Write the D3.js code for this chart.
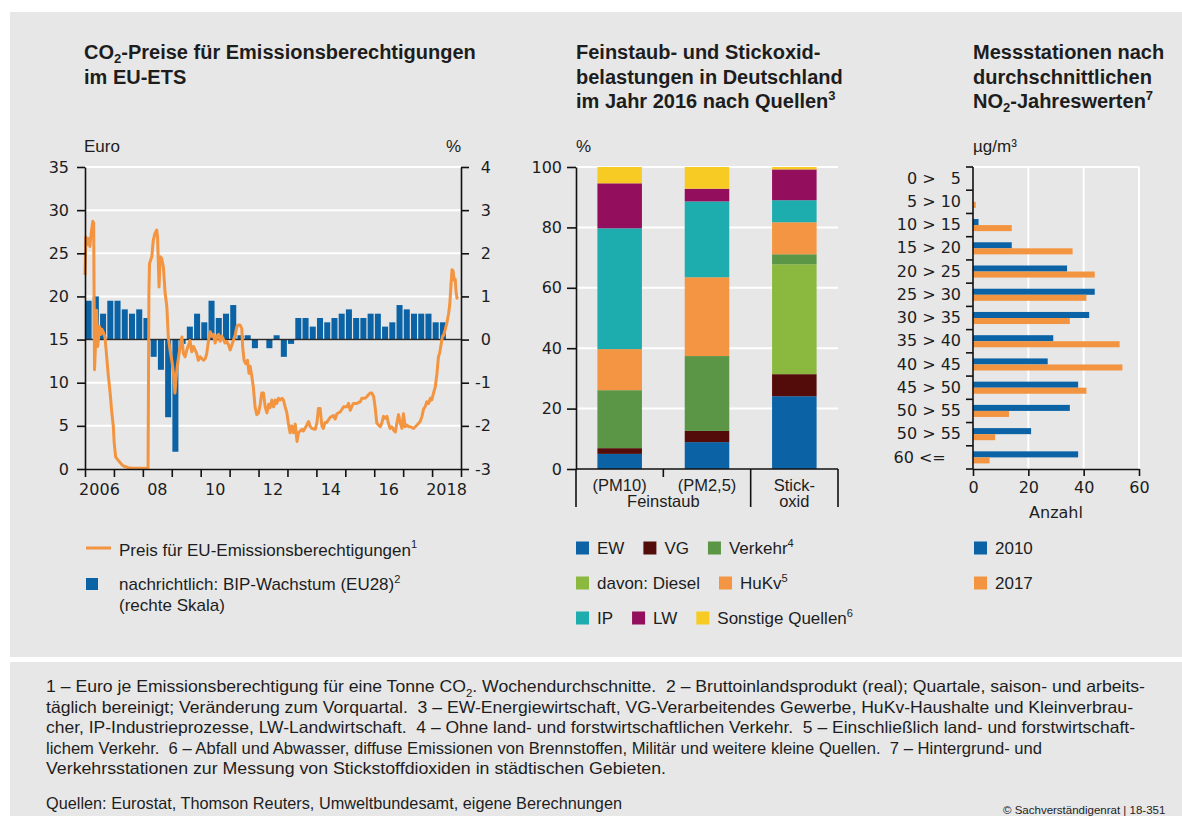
<!DOCTYPE html>
<html>
<head>
<meta charset="utf-8">
<script src="https://cdn.jsdelivr.net/npm/d3@7"></script>
<style>
body { margin: 0; background: #fff; }
svg text { fill: #1d1d1d; }
</style>
</head>
<body>
<svg id="chart" width="1182" height="816"></svg>
<script>
// ---- data ----

// weekly EUA price, [year, euro]
const co2Price = [
	[2006.00,22.5],[2006.03,26.9],[2006.07,26.0],[2006.12,26.7],[2006.17,25.8],[2006.22,27.5],[2006.27,28.7],[2006.30,28.5],
	[2006.33,11.5],[2006.37,15.0],[2006.40,18.4],[2006.44,14.2],[2006.50,16.5],[2006.55,15.6],[2006.58,16.2],[2006.64,15.8],
	[2006.69,15.3],[2006.75,13.0],[2006.81,10.7],[2006.87,8.8],[2006.92,6.8],[2006.98,4.9],[2007.01,3.0],[2007.06,1.4],
	[2007.15,1.0],[2007.25,0.6],[2007.33,0.35],[2007.50,0.15],[2007.67,0.1],[2008.00,0.1],[2008.18,0.1],[2008.21,20.4],
	[2008.23,23.8],[2008.31,24.6],[2008.36,26.5],[2008.42,27.3],[2008.48,27.7],[2008.51,26.8],[2008.56,21.1],[2008.60,24.6],
	[2008.65,24.4],[2008.71,23.4],[2008.77,20.4],[2008.83,18.8],[2008.88,15.3],[2008.94,13.8],[2009.00,12.6],[2009.06,11.1],
	[2009.11,8.8],[2009.15,10.6],[2009.19,11.9],[2009.29,14.2],[2009.35,15.3],[2009.40,13.4],[2009.46,13.0],[2009.52,13.8],
	[2009.63,14.9],[2009.69,13.6],[2009.75,14.2],[2009.86,13.4],[2009.92,12.6],[2009.98,13.0],[2010.10,12.6],[2010.16,12.8],
	[2010.21,13.4],[2010.27,14.9],[2010.33,15.9],[2010.39,15.4],[2010.44,15.6],[2010.50,14.6],[2010.56,15.4],[2010.62,15.6],
	[2010.67,14.8],[2010.73,15.4],[2010.79,15.0],[2010.84,14.6],[2010.90,14.8],[2010.96,14.4],[2011.02,13.8],[2011.08,14.4],
	[2011.13,14.9],[2011.19,15.5],[2011.25,16.5],[2011.30,16.7],[2011.36,16.7],[2011.42,16.3],[2011.45,14.2],[2011.50,12.6],
	[2011.56,12.2],[2011.62,12.6],[2011.67,11.1],[2011.71,11.9],[2011.77,10.7],[2011.82,9.5],[2011.88,7.2],[2011.94,6.3],
	[2012.00,6.5],[2012.06,7.5],[2012.11,8.8],[2012.17,8.8],[2012.23,7.2],[2012.29,6.5],[2012.35,7.5],[2012.40,7.1],
	[2012.46,8.0],[2012.52,7.2],[2012.58,8.0],[2012.63,7.6],[2012.69,8.2],[2012.75,8.0],[2012.81,8.2],[2012.86,8.0],
	[2012.92,7.2],[2012.98,6.5],[2013.03,5.3],[2013.09,4.2],[2013.15,5.0],[2013.21,4.2],[2013.27,5.2],[2013.33,3.2],
	[2013.38,4.2],[2013.44,4.4],[2013.50,4.6],[2013.55,4.4],[2013.67,5.1],[2013.73,5.5],[2013.79,4.9],[2013.85,4.7],
	[2013.96,4.6],[2014.02,5.4],[2014.07,7.0],[2014.13,7.0],[2014.19,5.0],[2014.24,4.7],[2014.30,5.4],[2014.36,5.4],
	[2014.48,6.0],[2014.59,6.2],[2014.65,5.8],[2014.71,6.4],[2014.82,6.6],[2014.88,6.9],[2014.94,7.2],[2015.05,7.2],
	[2015.11,7.6],[2015.17,6.8],[2015.22,7.2],[2015.28,7.6],[2015.40,7.6],[2015.52,7.8],[2015.57,8.2],[2015.69,8.2],
	[2015.75,8.4],[2015.80,8.6],[2015.86,8.8],[2015.92,8.8],[2015.98,8.4],[2016.03,7.2],[2016.09,5.3],[2016.15,5.1],
	[2016.21,4.9],[2016.26,5.3],[2016.32,6.1],[2016.38,5.9],[2016.44,6.1],[2016.49,5.3],[2016.55,4.7],[2016.61,4.9],
	[2016.67,4.5],[2016.73,4.3],[2016.78,5.3],[2016.84,6.3],[2016.90,5.3],[2016.96,4.7],[2017.01,6.4],[2017.07,4.9],
	[2017.13,5.1],[2017.19,4.9],[2017.25,4.9],[2017.36,4.7],[2017.42,4.9],[2017.48,5.1],[2017.59,5.5],[2017.65,6.1],
	[2017.71,7.0],[2017.76,7.2],[2017.82,7.8],[2017.88,7.6],[2017.94,8.2],[2017.99,8.0],[2018.05,8.8],[2018.11,9.5],
	[2018.17,11.1],[2018.22,13.0],[2018.26,13.4],[2018.32,14.6],[2018.36,15.4],[2018.40,15.5],[2018.45,16.1],[2018.51,16.9],
	[2018.57,18.0],[2018.61,19.0],[2018.65,21.1],[2018.69,23.1],[2018.73,22.9],[2018.76,21.9],[2018.80,22.0],[2018.83,20.5],
	[2018.86,19.8],[2018.88,20.0]
]

// EU28 GDP growth vs previous quarter, %, from 2006 Q1 to 2018 Q2
const gdpFirstYear = 2006
const gdpGrowth = [
	0.9, 1.0, 0.6, 0.9, 0.9, 0.7, 0.6, 0.7,
	0.5, -0.4, -0.7, -1.8, -2.6, -0.1, 0.3, 0.6,
	0.4, 0.9, 0.5, 0.6, 0.8, 0.1, 0.1, -0.2,
	0.0, -0.2, 0.1, -0.4, -0.1, 0.5, 0.5, 0.3,
	0.5, 0.4, 0.5, 0.6, 0.7, 0.5, 0.5, 0.6,
	0.6, 0.3, 0.4, 0.8, 0.7, 0.6, 0.6, 0.6,
	0.4, 0.4
]
const yearTickLabels = ["2006", "08", "10", "12", "14", "16", "2018"]
const yearTickAt = [2006, 2008, 2010, 2012, 2014, 2016, 2018]

// emissions 2016 by source, % of total
const pmCats = ["PM10", "PM2,5", "Stickoxid"]
const pmCatLines = [["(PM10)"], ["(PM2,5)"], ["Stick-", "oxid"]]
const sources = ["EW", "VG", "Diesel", "Verkehr", "HuKv", "IP", "LW", "Sonstige"]
const shareEW = [5.0, 8.9, 24.1]
const shareVG = [1.9, 3.7, 7.3]
const shareDiesel = [0, 0, 36.4]
const shareVerkehr = [19.2, 24.8, 3.3]
const shareHuKv = [13.6, 26.1, 10.6]
const shareIP = [40.0, 25.1, 7.3]
const shareLW = [14.9, 4.2, 10.2]
const shareSonstige = [5.4, 7.2, 0.8]
const sourceLabels = {
	EW: "EW", VG: "VG", Verkehr: "Verkehr^4", Diesel: "davon: Diesel",
	HuKv: "HuKv^5", IP: "IP", LW: "LW", Sonstige: "Sonstige Quellen^6"
}

// NO2 measuring stations by annual mean class
const no2Classes = ["0 > \u20075", "5 > 10", "10 > 15", "15 > 20", "20 > 25", "25 > 30", "30 > 35",
	"35 > 40", "40 > 45", "45 > 50", "50 > 55", "50 > 55", "60 <=\u00a0\u00a0\u00a0"]
const stations2010 = [0, 0, 2, 14, 34, 44, 42, 29, 27, 38, 35, 21, 38]
const stations2017 = [0, 1, 14, 36, 44, 41, 35, 53, 54, 41, 13, 8, 6]

// ---- style ----
const svg = d3.select('#chart')
const panelColor = '#e7e7e7'
const blue = '#0b63a5'
const orange = '#f39440'
const sourceColors = {
	EW: '#0b63a5', VG: '#530c09', Diesel: '#8bb940', Verkehr: '#5b9646',
	HuKv: '#f39542', IP: '#1eadae', LW: '#930e5d', Sonstige: '#f8cb24'
}
const tickFont = "'DejaVu Sans', sans-serif"
const textFont = "'Liberation Sans', Arial, sans-serif"

// writes "CO_2" / "Quellen^3" style strings as tspans
function rich(sel, str, size, subShift) {
	let off = 0
	str.split(/([\^_]\d)/).filter(p => p).forEach(p => {
		if (p[0] === '^' || p[0] === '_') {
			const shift = p[0] === '^' ? -size * 0.42 : size * (subShift || 0.3)
			sel.append('tspan').attr('dy', shift - off).attr('font-size', size * 0.65).text(p.slice(1))
			off = shift
		} else {
			sel.append('tspan').attr('dy', -off).text(p)
			off = 0
		}
	})
	return sel
}

function styleAxis(g) {
	g.select('.domain').attr('stroke', '#111').attr('stroke-width', 1.6)
	g.selectAll('.tick line').attr('stroke', '#111').attr('stroke-width', 1.6)
	g.selectAll('.tick text').attr('font-family', tickFont).attr('font-size', 16).attr('fill', '#1d1d1d')
}

// background panels
svg.append('rect').attr('x', 10).attr('y', 12).attr('width', 1172).attr('height', 645).attr('fill', panelColor)
svg.append('rect').attr('x', 10).attr('y', 662).attr('width', 1172).attr('height', 154).attr('fill', panelColor)

// titles
function title(x, lines) {
	lines.forEach((l, i) => {
		const t = svg.append('text').attr('x', x).attr('y', 59 + i * 24.5)
			.attr('font-family', textFont).attr('font-weight', 700).attr('font-size', 20)
		rich(t, l, 20, 0.2)
	})
}
title(84, ["CO_2-Preise für Emissionsberechtigungen", "im EU-ETS"])
title(576, ["Feinstaub- und Stickoxid-", "belastungen in Deutschland", "im Jahr 2016 nach Quellen^3"])
title(973, ["Messstationen nach", "durchschnittlichen", "NO_2-Jahreswerten^7"])

function unitLabel(x, text, anchor) {
	svg.append('text').attr('x', x).attr('y', 152).attr('text-anchor', anchor || 'start')
		.attr('font-family', textFont).attr('font-size', 17).text(text)
}

// ================= left chart: CO2 price + GDP =================
function make_price_chart() {
	const x = d3.scaleLinear().domain([2006, 2019]).range([85, 461])
	const yL = d3.scaleLinear().domain([0, 35]).range([469, 167])
	const yR = d3.scaleLinear().domain([-3, 4]).range([469, 167])
	const g = svg.append('g')

	unitLabel(84, 'Euro')
	unitLabel(461, '%', 'end')

	g.selectAll('.grid').data(d3.range(5, 36, 5)).join('line')
		.attr('x1', x(2006)).attr('x2', x(2019))
		.attr('y1', d => yL(d)).attr('y2', d => yL(d))
		.attr('stroke', '#fff').attr('stroke-width', 2)

	const q = x(2006.25) - x(2006)
	g.selectAll('.gdp').data(gdpGrowth).join('rect')
		.attr('x', (d, i) => x(gdpFirstYear + i / 4) + 0.6)
		.attr('width', q - 1.2)
		.attr('y', d => yR(Math.max(d, 0)))
		.attr('height', d => Math.abs(yR(d) - yR(0)))
		.attr('fill', blue)

	g.append('line').attr('x1', x(2006)).attr('x2', x(2019))
		.attr('y1', yR(0)).attr('y2', yR(0)).attr('stroke', '#2a2a2a').attr('stroke-width', 1.6)

	g.append('path').datum(co2Price)
		.attr('fill', 'none').attr('stroke', orange).attr('stroke-width', 3)
		.attr('stroke-linejoin', 'round')
		.attr('d', d3.line().x(d => x(d[0])).y(d => yL(d[1])))

	g.append('g').attr('transform', 'translate(85,0)')
		.call(d3.axisLeft(yL).tickValues(d3.range(0, 36, 5)).tickSize(8).tickSizeOuter(0).tickPadding(8))
		.call(styleAxis)

	g.append('g').attr('transform', 'translate(461,0)')
		.call(d3.axisRight(yR).tickValues(d3.range(-3, 5)).tickSize(8).tickSizeOuter(0)
			.tickFormat(d => d < 0 ? '-' + Math.abs(d) : d))
		.call(styleAxis)
		.selectAll('.tick text').attr('text-anchor', 'end').attr('x', 30)

	g.append('g').attr('transform', 'translate(0,469)')
		.call(d3.axisBottom(x).tickValues(d3.range(2006, 2020)).tickSize(8).tickSizeOuter(0).tickFormat(''))
		.call(styleAxis)

	g.selectAll('.yearlab').data(yearTickAt).join('text')
		.attr('x', d => x(d + 0.5)).attr('y', 495).attr('text-anchor', 'middle')
		.attr('font-family', tickFont).attr('font-size', 16)
		.text((d, i) => yearTickLabels[i])

	// legend
	svg.append('line').attr('x1', 86).attr('x2', 111).attr('y1', 548).attr('y2', 548)
		.attr('stroke', orange).attr('stroke-width', 3)
	rich(svg.append('text').attr('x', 119).attr('y', 555.5).attr('font-family', textFont).attr('font-size', 17),
		'Preis für EU-Emissionsberechtigungen^1', 17)
	svg.append('rect').attr('x', 86).attr('y', 578).attr('width', 12).attr('height', 12).attr('fill', blue)
	rich(svg.append('text').attr('x', 119).attr('y', 590).attr('font-family', textFont).attr('font-size', 17),
		'nachrichtlich: BIP-Wachstum (EU28)^2', 17)
	svg.append('text').attr('x', 119).attr('y', 611).attr('font-family', textFont).attr('font-size', 17)
		.text('(rechte Skala)')
}

// ================= middle chart: stacked shares =================
function legendRows(x0, rows, labelOf, colorOf) {
	rows.forEach((row, r) => {
		let x = x0
		const cy = 548 + r * 35
		row.forEach(k => {
			svg.append('rect').attr('x', x).attr('y', cy - 6.5).attr('width', 13).attr('height', 13).attr('fill', colorOf(k))
			const t = rich(svg.append('text').attr('x', x + 21).attr('y', cy + 6)
				.attr('font-family', textFont).attr('font-size', 17), labelOf(k), 17)
			x = x + 21 + t.node().getComputedTextLength() + 19
		})
	})
}

function make_share_chart() {
	const x = d3.scaleBand().domain(pmCats).range([576, 838]).paddingInner(0.49).paddingOuter(0.245)
	const y = d3.scaleLinear().domain([0, 100]).range([469, 167])
	const g = svg.append('g')

	unitLabel(576, '%')

	g.selectAll('.grid').data(d3.range(20, 101, 20)).join('line')
		.attr('x1', 576).attr('x2', 838)
		.attr('y1', d => y(d)).attr('y2', d => y(d))
		.attr('stroke', '#fff').attr('stroke-width', 2)

	const columns = { EW: shareEW, VG: shareVG, Diesel: shareDiesel, Verkehr: shareVerkehr,
		HuKv: shareHuKv, IP: shareIP, LW: shareLW, Sonstige: shareSonstige }
	const rows = pmCats.map((c, i) => {
		const r = { cat: c }
		sources.forEach(s => { r[s] = columns[s][i] })
		return r
	})
	const stacked = d3.stack().keys(sources)(rows)

	g.selectAll('.layer').data(stacked).join('g')
		.attr('fill', d => sourceColors[d.key])
		.selectAll('rect').data(d => d).join('rect')
			.attr('x', d => x(d.data.cat))
			.attr('width', x.bandwidth())
			.attr('y', d => y(d[1]))
			.attr('height', d => y(d[0]) - y(d[1]))

	g.append('g').attr('transform', 'translate(576,0)')
		.call(d3.axisLeft(y).tickValues(d3.range(0, 101, 20)).tickSize(9).tickSizeOuter(0).tickPadding(5))
		.call(styleAxis)

	// bottom line and group separators
	g.append('line').attr('x1', 576).attr('x2', 838).attr('y1', 469).attr('y2', 469)
		.attr('stroke', '#111').attr('stroke-width', 1.6)
	const step = x.step()
	g.selectAll('.sep').data(d3.range(0, pmCats.length + 1)).join('line')
		.attr('x1', i => 576 + i * step).attr('x2', i => 576 + i * step)
		.attr('y1', 469).attr('y2', i => i === 1 ? 477 : 507)
		.attr('stroke', '#111').attr('stroke-width', 1.6)

	pmCatLines.forEach((lines, i) => {
		lines.forEach((l, j) => {
			g.append('text').attr('x', x(pmCats[i]) + x.bandwidth() / 2).attr('y', 491 + j * 16)
				.attr('text-anchor', 'middle').attr('font-family', textFont).attr('font-size', 16.5).text(l)
		})
	})
	g.append('text').attr('x', 576 + step).attr('y', 507).attr('text-anchor', 'middle')
		.attr('font-family', textFont).attr('font-size', 16.5).text('Feinstaub')

	legendRows(576, [["EW", "VG", "Verkehr"], ["Diesel", "HuKv"], ["IP", "LW", "Sonstige"]],
		k => sourceLabels[k], k => sourceColors[k])
}

// ================= right chart: NO2 stations =================
function make_station_chart() {
	const x = d3.scaleLinear().domain([0, 60]).range([973, 1139])
	const y = d3.scaleBand().domain(d3.range(no2Classes.length)).range([167, 469])
		.paddingInner(0.48).paddingOuter(0.24)
	const sub = d3.scaleBand().domain(['2010', '2017']).range([0, y.bandwidth()])
	const g = svg.append('g')

	unitLabel(973, 'µg/m³')

	g.selectAll('.vgrid').data([20, 40, 60]).join('line')
		.attr('x1', d => x(d)).attr('x2', d => x(d)).attr('y1', 167).attr('y2', 469)
		.attr('stroke', '#fff').attr('stroke-width', 2)
	g.append('line').attr('x1', x(0)).attr('x2', x(60)).attr('y1', 167).attr('y2', 167)
		.attr('stroke', '#fff').attr('stroke-width', 2)

	const series = [['2010', stations2010, blue], ['2017', stations2017, orange]]
	series.forEach(([yr, vals, col]) => {
		g.selectAll('.b' + yr).data(vals).join('rect')
			.attr('x', x(0))
			.attr('y', (d, i) => y(i) + sub(yr))
			.attr('width', d => x(d) - x(0))
			.attr('height', sub.bandwidth())
			.attr('fill', col)
	})

	const labels = g.append('g').attr('transform', 'translate(973,0)')
		.call(d3.axisLeft(y).tickSize(0).tickPadding(12).tickFormat(i => no2Classes[i]))
		.call(styleAxis)
	labels.select('.domain').remove()
	labels.selectAll('.tick text').style('white-space', 'pre')

	const step = y.step()
	g.selectAll('.bound').data(d3.range(no2Classes.length + 1)).join('line')
		.attr('x1', 966).attr('x2', 973)
		.attr('y1', i => 167 + i * step).attr('y2', i => 167 + i * step)
		.attr('stroke', '#111').attr('stroke-width', 1.6)
	g.append('line').attr('x1', 973).attr('x2', 973).attr('y1', 167).attr('y2', 469)
		.attr('stroke', '#111').attr('stroke-width', 1.6)

	g.append('g').attr('transform', 'translate(0,469)')
		.call(d3.axisBottom(x).tickValues([0, 20, 40, 60]).tickSize(7).tickSizeOuter(0).tickPadding(6))
		.call(styleAxis)

	g.append('text').attr('x', (x(0) + x(60)) / 2).attr('y', 518).attr('text-anchor', 'middle')
		.attr('font-family', tickFont).attr('font-size', 16).text('Anzahl')

	legendRows(974, [['2010'], ['2017']], k => k, k => k === '2010' ? blue : orange)
}

make_price_chart()
make_share_chart()
make_station_chart()

// ================= footnotes =================
const footnotes = [
	"1 – Euro je Emissionsberechtigung für eine Tonne CO_2. Wochendurchschnitte.  2 – Bruttoinlandsprodukt (real); Quartale, saison- und arbeits-",
	"täglich bereinigt; Veränderung zum Vorquartal.  3 – EW-Energiewirtschaft, VG-Verarbeitendes Gewerbe, HuKv-Haushalte und Kleinverbrau-",
	"cher, IP-Industrieprozesse, LW-Landwirtschaft.  4 – Ohne land- und forstwirtschaftlichen Verkehr.  5 – Einschließlich land- und forstwirtschaft-",
	"lichem Verkehr.  6 – Abfall und Abwasser, diffuse Emissionen von Brennstoffen, Militär und weitere kleine Quellen.  7 – Hintergrund- und",
	"Verkehrsstationen zur Messung von Stickstoffdioxiden in städtischen Gebieten."
]
const footnoteEnds = [1145, 1133, 1135, 1042, 666]
footnotes.forEach((l, i) => {
	const t = svg.append('text').attr('x', 46).attr('y', 692 + i * 20.5)
		.attr('font-family', textFont).attr('font-size', 16.5).style('white-space', 'pre')
		.attr('textLength', footnoteEnds[i] - 46).attr('lengthAdjust', 'spacingAndGlyphs')
	rich(t, l, 16.5)
})
svg.append('text').attr('x', 46).attr('y', 809).attr('font-family', textFont).attr('font-size', 16.5)
	.attr('textLength', 622 - 46).attr('lengthAdjust', 'spacingAndGlyphs')
	.text('Quellen: Eurostat, Thomson Reuters, Umweltbundesamt, eigene Berechnungen')
svg.append('text').attr('x', 1003).attr('y', 814).attr('font-family', textFont).attr('font-size', 11.5)
	.text('© Sachverständigenrat | 18-351')
</script>
</body>
</html>
